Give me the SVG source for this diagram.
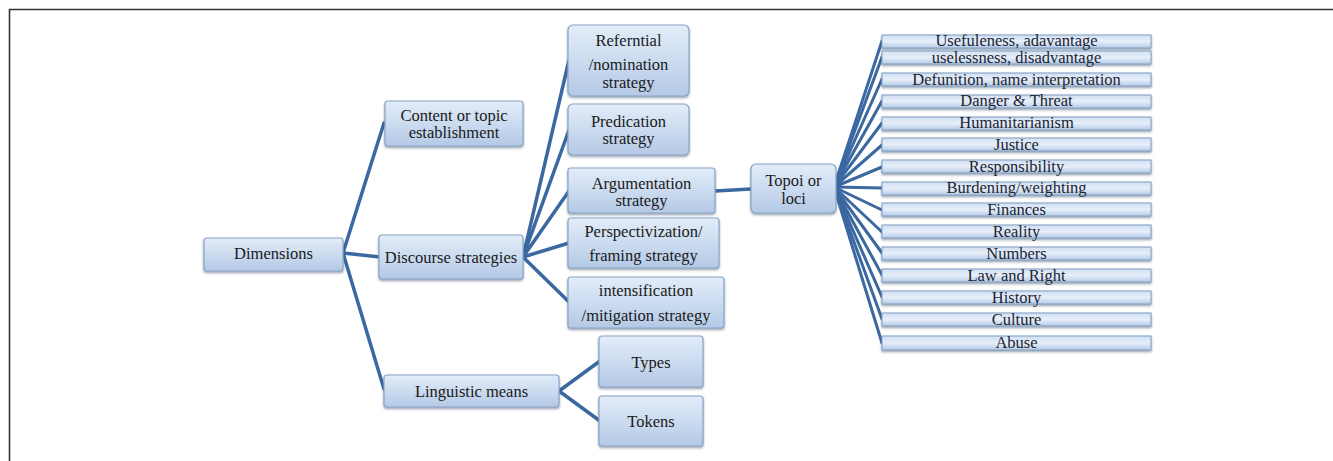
<svg xmlns="http://www.w3.org/2000/svg" width="1333" height="461" viewBox="0 0 1333 461">
<defs>
<linearGradient id="g" x1="0" y1="0" x2="0" y2="1">
<stop offset="0" stop-color="#e3edf9"/>
<stop offset="1" stop-color="#b4c9e6"/>
</linearGradient>
<linearGradient id="g2" x1="0" y1="0" x2="0" y2="1">
<stop offset="0" stop-color="#d2e0f3"/>
<stop offset="0.5" stop-color="#e6eef9"/>
<stop offset="1" stop-color="#b6cbe7"/>
</linearGradient>
<filter id="sh" x="-10%" y="-20%" width="120%" height="160%">
<feDropShadow dx="0" dy="1.5" stdDeviation="1.2" flood-color="#3a4f6a" flood-opacity="0.55"/>
</filter>
</defs>
<style>
.b{fill:url(#g);stroke:#89a6c9;stroke-width:1.2;filter:url(#sh)}
.t{fill:url(#g2);stroke:#7f9fc3;stroke-width:1;filter:url(#sh)}
text{font-family:"Liberation Serif","Times New Roman",serif;fill:#1a1a1a;text-anchor:middle;dominant-baseline:central}
.m{font-size:16.5px}
.s{font-size:16.5px;fill:#1c2430}
.c line{stroke:#3b68a0;stroke-width:3.5;fill:none;stroke-linecap:round}
.c .f{stroke-width:3}
</style>
<rect width="1333" height="461" fill="#ffffff"/>
<path d="M9.5 461 V9.5 H1333" fill="none" stroke="#333" stroke-width="1.6"/>
<g class="c" id="connectors">
<line x1="343" y1="253" x2="384" y2="123"/>
<line x1="343" y1="253" x2="380" y2="257"/>
<line x1="343" y1="253" x2="384" y2="389"/>
<line x1="523" y1="257" x2="569" y2="60"/>
<line x1="523" y1="257" x2="569" y2="130"/>
<line x1="523" y1="257" x2="569" y2="191"/>
<line x1="523" y1="257" x2="569" y2="243"/>
<line x1="523" y1="257" x2="569" y2="302"/>
<line x1="559" y1="391" x2="600" y2="361"/>
<line x1="559" y1="391" x2="600" y2="421"/>
<line x1="715" y1="191" x2="751" y2="189"/>
<line class="f" x1="834" y1="187" x2="882" y2="41"/>
<line class="f" x1="834" y1="187" x2="882" y2="57"/>
<line class="f" x1="834" y1="187" x2="882" y2="79"/>
<line class="f" x1="834" y1="187" x2="882" y2="101"/>
<line class="f" x1="834" y1="187" x2="882" y2="123"/>
<line class="f" x1="834" y1="187" x2="882" y2="145"/>
<line class="f" x1="834" y1="187" x2="882" y2="167"/>
<line class="f" x1="834" y1="187" x2="882" y2="188"/>
<line class="f" x1="834" y1="187" x2="882" y2="210"/>
<line class="f" x1="834" y1="187" x2="882" y2="232"/>
<line class="f" x1="834" y1="187" x2="882" y2="253"/>
<line class="f" x1="834" y1="187" x2="882" y2="275"/>
<line class="f" x1="834" y1="187" x2="882" y2="297"/>
<line class="f" x1="834" y1="187" x2="882" y2="319"/>
<line class="f" x1="834" y1="187" x2="882" y2="343"/>
</g>
<g id="n-dimensions"><rect class="b" x="204" y="238" width="139" height="33" rx="3"/><text class="m" x="273.5" y="253">Dimensions</text></g>
<g id="n-content"><rect class="b" x="385" y="101" width="138" height="45" rx="3"/><text class="m" x="454" y="115">Content or topic</text><text class="m" x="454" y="132">establishment</text></g>
<g id="n-discourse"><rect class="b" x="379" y="235" width="144" height="44" rx="3"/><text class="m" x="451" y="257">Discourse strategies</text></g>
<g id="n-linguistic"><rect class="b" x="384" y="375" width="175" height="32" rx="3"/><text class="m" x="471.5" y="391">Linguistic means</text></g>
<g id="n-referential"><rect class="b" x="568" y="25" width="121" height="71" rx="5"/><text class="m" x="628.5" y="40">Referntial</text><text class="m" x="628.5" y="64">/nomination</text><text class="m" x="628.5" y="82">strategy</text></g>
<g id="n-predication"><rect class="b" x="568" y="104" width="121" height="51" rx="5"/><text class="m" x="628.5" y="121">Predication</text><text class="m" x="628.5" y="138">strategy</text></g>
<g id="n-argumentation"><rect class="b" x="568" y="168" width="147" height="45" rx="3"/><text class="m" x="641.5" y="183">Argumentation</text><text class="m" x="641.5" y="200">strategy</text></g>
<g id="n-perspectivization"><rect class="b" x="568" y="218" width="151" height="50" rx="3"/><text class="m" x="643.5" y="231">Perspectivization/</text><text class="m" x="643.5" y="255">framing strategy</text></g>
<g id="n-intensification"><rect class="b" x="568" y="277" width="156" height="51" rx="3"/><text class="m" x="646" y="290">intensification</text><text class="m" x="646" y="315">/mitigation strategy</text></g>
<g id="n-types"><rect class="b" x="599" y="336" width="104" height="51" rx="3"/><text class="m" x="651" y="362">Types</text></g>
<g id="n-tokens"><rect class="b" x="599" y="396" width="104" height="50" rx="3"/><text class="m" x="651" y="421">Tokens</text></g>
<g id="n-topoi"><rect class="b" x="751" y="164" width="85" height="49" rx="5"/><text class="m" x="793.5" y="180">Topoi or</text><text class="m" x="793.5" y="198">loci</text></g>
<g id="t-usefulness"><rect class="t" x="882" y="35" width="269" height="13"/><text class="s" x="1016.5" y="40">Usefuleness, adavantage</text></g>
<g id="t-uselessness"><rect class="t" x="882" y="51" width="269" height="13"/><text class="s" x="1016.5" y="57">uselessness, disadvantage</text></g>
<g id="t-defunition"><rect class="t" x="882" y="73" width="269" height="13"/><text class="s" x="1016.5" y="79">Defunition, name interpretation</text></g>
<g id="t-danger"><rect class="t" x="882" y="95" width="269" height="13"/><text class="s" x="1016.5" y="100">Danger &amp; Threat</text></g>
<g id="t-humanitarianism"><rect class="t" x="882" y="117" width="269" height="13"/><text class="s" x="1016.5" y="122">Humanitarianism</text></g>
<g id="t-justice"><rect class="t" x="882" y="138" width="269" height="13"/><text class="s" x="1016.5" y="144">Justice</text></g>
<g id="t-responsibility"><rect class="t" x="882" y="160" width="269" height="13"/><text class="s" x="1016.5" y="166">Responsibility</text></g>
<g id="t-burdening"><rect class="t" x="882" y="182" width="269" height="13"/><text class="s" x="1016.5" y="187">Burdening/weighting</text></g>
<g id="t-finances"><rect class="t" x="882" y="203" width="269" height="13"/><text class="s" x="1016.5" y="209">Finances</text></g>
<g id="t-reality"><rect class="t" x="882" y="225" width="269" height="13"/><text class="s" x="1016.5" y="231">Reality</text></g>
<g id="t-numbers"><rect class="t" x="882" y="247" width="269" height="13"/><text class="s" x="1016.5" y="253">Numbers</text></g>
<g id="t-law"><rect class="t" x="882" y="269" width="269" height="13"/><text class="s" x="1016.5" y="275">Law and Right</text></g>
<g id="t-history"><rect class="t" x="882" y="291" width="269" height="13"/><text class="s" x="1016.5" y="297">History</text></g>
<g id="t-culture"><rect class="t" x="882" y="313" width="269" height="13"/><text class="s" x="1016.5" y="319">Culture</text></g>
<g id="t-abuse"><rect class="t" x="882" y="336" width="269" height="14"/><text class="s" x="1016.5" y="342">Abuse</text></g>
</svg>
